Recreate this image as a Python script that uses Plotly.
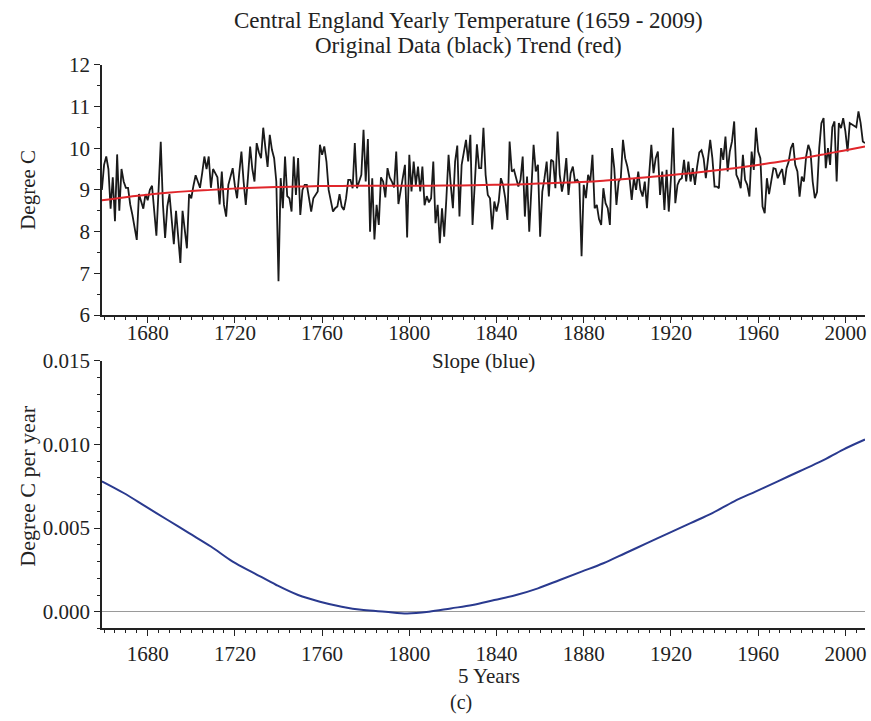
import plotly.graph_objects as go

# Central England annual mean temperature, 1659-2009 (degrees C)
years = list(range(1659, 2010))
temps = [
    # 1659-1699
    9.00, 9.60, 9.80, 9.50, 8.55, 9.30, 8.25, 9.85, 8.50, 9.50,
    9.20, 9.05, 9.05, 8.65, 8.40, 8.10, 7.80, 8.90, 8.70, 8.55,
    8.90, 8.75, 9.00, 9.10, 8.50, 7.90, 9.00, 10.15, 8.65, 7.85,
    8.60, 8.90, 8.30, 7.70, 8.50, 7.90, 7.25, 8.50, 8.10, 7.60,
    8.90,
    # 1700-1749
    8.80, 9.10, 9.35, 9.20, 9.05, 9.40, 9.80, 9.50, 9.80, 9.05,
    9.50, 9.40, 9.30, 8.65, 9.44, 8.64, 8.36, 9.12, 9.30, 9.52,
    9.10, 8.80, 9.40, 9.92, 9.20, 8.64, 9.30, 10.04, 9.50, 9.20,
    10.12, 9.90, 9.76, 10.49, 10.00, 9.55, 10.32, 9.96, 9.76, 9.20,
    6.81, 9.28, 8.56, 9.80, 8.85, 8.80, 8.48, 9.80, 8.88, 9.76,
    # 1750-1799
    8.40, 9.00, 9.12, 9.12, 8.80, 8.48, 8.80, 8.88, 8.96, 10.08,
    9.84, 10.04, 9.68, 9.00, 8.70, 8.48, 8.56, 8.60, 8.90, 8.60,
    8.52, 8.80, 9.24, 9.24, 9.04, 10.12, 9.04, 9.20, 9.36, 10.44,
    9.20, 10.22, 8.00, 9.28, 7.81, 8.64, 8.16, 9.30, 9.20, 8.82,
    9.52, 9.30, 9.20, 9.06, 9.92, 8.66, 8.96, 9.24, 9.60, 7.86,
    # 1800-1849
    9.84, 8.96, 9.68, 9.12, 9.56, 8.96, 9.56, 8.63, 8.85, 8.70,
    8.80, 9.68, 8.20, 8.64, 7.72, 8.56, 7.88, 8.80, 9.84, 9.12,
    8.56, 9.68, 10.06, 8.36, 9.60, 9.90, 10.20, 9.68, 10.32, 8.16,
    9.04, 10.09, 9.52, 9.52, 10.49, 9.36, 8.88, 8.80, 8.05, 8.72,
    8.48, 8.72, 9.28, 9.12, 8.80, 8.28, 10.16, 9.44, 9.48, 9.28,
    # 1850-1899
    9.08, 9.24, 9.80, 8.36, 9.32, 8.00, 9.12, 10.08, 9.44, 9.60,
    7.88, 8.96, 9.28, 9.68, 8.84, 9.72, 9.68, 9.04, 10.40, 9.36,
    8.96, 9.24, 9.76, 8.88, 9.40, 9.56, 9.20, 9.24, 9.16, 7.41,
    9.12, 8.80, 9.36, 9.20, 9.84, 8.56, 8.64, 8.30, 8.16, 9.04,
    8.68, 8.56, 8.16, 10.00, 9.52, 8.64, 9.20, 9.28, 10.20, 9.76,
    # 1900-1949
    9.56, 9.28, 8.76, 9.28, 9.00, 9.44, 9.00, 8.84, 9.20, 8.56,
    9.36, 10.08, 9.40, 9.76, 9.92, 8.88, 9.44, 8.52, 9.48, 8.48,
    9.28, 10.49, 8.68, 9.12, 9.24, 9.28, 9.72, 9.20, 9.68, 9.20,
    9.52, 9.12, 9.56, 9.90, 9.95, 9.75, 9.28, 9.68, 10.20, 9.76,
    9.08, 9.08, 9.04, 10.00, 9.72, 10.28, 9.44, 9.92, 10.16, 10.64,
    # 1950-1999
    9.36, 9.24, 9.04, 9.84, 9.24, 9.12, 8.84, 9.92, 9.48, 10.49,
    9.92, 9.76, 8.60, 8.44, 9.28, 8.90, 9.20, 9.52, 9.50, 9.28,
    9.40, 9.50, 9.12, 9.52, 9.68, 10.00, 10.12, 9.60, 9.44, 8.84,
    9.32, 9.20, 9.80, 10.08, 9.92, 9.20, 8.80, 8.95, 10.00, 10.60,
    10.72, 9.52, 10.00, 9.60, 10.50, 10.64, 9.20, 10.60, 10.48, 10.72,
    # 2000-2009
    10.40, 9.92, 10.60, 10.56, 10.52, 10.50, 10.88, 10.60, 10.16, 10.12,
]

# Smooth trend (red) sampled every ten years
trend_years = [1659, 1669, 1679, 1689, 1699, 1709, 1719, 1729, 1739, 1749,
               1759, 1769, 1779, 1789, 1799, 1809, 1819, 1829, 1839, 1849,
               1859, 1869, 1879, 1889, 1899, 1909, 1919, 1929, 1939, 1949,
               1959, 1969, 1979, 1989, 1999, 2009]
trend = [8.75, 8.82, 8.88, 8.93, 8.97, 9.00, 9.03, 9.05, 9.07, 9.08,
         9.09, 9.095, 9.10, 9.10, 9.10, 9.10, 9.105, 9.11, 9.12, 9.13,
         9.15, 9.17, 9.19, 9.22, 9.26, 9.30, 9.35, 9.40, 9.46, 9.52,
         9.59, 9.67, 9.75, 9.84, 9.94, 10.04]

# Slope of the trend (blue), degrees C per year
slope = [0.0078, 0.0071, 0.0063, 0.0055, 0.0047, 0.0039, 0.0030, 0.0023, 0.0016, 0.0010,
         0.0006, 0.0003, 0.0001, 0.0000, -0.0001, 0.0000, 0.0002, 0.0004, 0.0007, 0.0010,
         0.0014, 0.0019, 0.0024, 0.0029, 0.0035, 0.0041, 0.0047, 0.0053, 0.0059, 0.0066,
         0.0072, 0.0078, 0.0084, 0.0090, 0.0097, 0.0103]

W, H = 871, 721
FONT = "Liberation Serif"

def py(pixel_y):
    return 1 - pixel_y / H

def px(pixel_x):
    return pixel_x / W

x_dom = [px(102), px(866)]

fig = go.Figure()

fig.add_trace(go.Scatter(x=years, y=temps, mode="lines",
                         line=dict(color="#1a1a1a", width=1.8),
                         xaxis="x2", yaxis="y2", showlegend=False))
fig.add_trace(go.Scatter(x=trend_years, y=trend, mode="lines",
                         line=dict(color="#e0262b", width=2, shape="spline"),
                         xaxis="x2", yaxis="y2", showlegend=False))
fig.add_trace(go.Scatter(x=trend_years, y=slope, mode="lines",
                         line=dict(color="#2a3a8f", width=2, shape="spline"),
                         xaxis="x", yaxis="y", showlegend=False))

tick_font = dict(family=FONT, size=21, color="#222")

def xaxis_style(standoff):
    return dict(range=[1659, 2009], tick0=1680, dtick=40, ticks="outside",
                ticklen=6, tickwidth=1, tickcolor="#222",
                showline=True, linecolor="#222", linewidth=1.5,
                showgrid=False, zeroline=False, tickfont=tick_font,
                ticklabelstandoff=standoff,
                minor=dict(tick0=1680, dtick=5, ticks="outside", ticklen=3,
                           tickcolor="#222", showgrid=False),
                domain=x_dom)

fig.update_layout(
    width=W, height=H,
    margin=dict(l=0, r=0, t=0, b=0),
    paper_bgcolor="white", plot_bgcolor="white",
    font=dict(family=FONT, color="#222"),
    xaxis2=dict(anchor="y2", **xaxis_style(-8)),
    yaxis2=dict(anchor="x2", domain=[py(313.5), py(54.5)], range=[6, 12],
                dtick=1, ticks="outside", ticklen=6, tickcolor="#222",
                showline=True, linecolor="#222", linewidth=1.5,
                showgrid=False, zeroline=False, tickfont=tick_font,
                minor=dict(dtick=0.5, ticks="outside", ticklen=3,
                           tickcolor="#222", showgrid=False)),
    xaxis=dict(anchor="y", **xaxis_style(0)),
    yaxis=dict(anchor="x", domain=[py(637.7), py(360.9)], range=[-0.001, 0.015],
               tick0=0, dtick=0.005, tickformat=".3f", ticks="outside",
               ticklen=6, tickcolor="#222",
               showline=True, linecolor="#222", linewidth=1.5,
               showgrid=False, zeroline=True, zerolinecolor="#9a9a9a",
               zerolinewidth=1, tickfont=tick_font,
               minor=dict(tick0=0, dtick=0.001, ticks="outside", ticklen=3,
                          tickcolor="#222", showgrid=False)),
)

def label(text, x, y, size, angle=0):
    fig.add_annotation(text=text, x=px(x), y=py(y), xref="paper", yref="paper",
                       showarrow=False, textangle=angle,
                       font=dict(family=FONT, size=size, color="#222"),
                       xanchor="center", yanchor="middle")

label("Central England Yearly Temperature (1659 - 2009)", 469, 9, 23)
label("Original Data (black) Trend (red)", 469, 35, 23)
label("Slope (blue)", 484, 361, 21)
label("Degree C", 28, 184, 21, -90)
label("Degree C per year", 28, 490, 22, -90)
label("5 Years", 490, 687, 21)
label("(c)", 462, 714, 20)

fig.write_html("out.html")
